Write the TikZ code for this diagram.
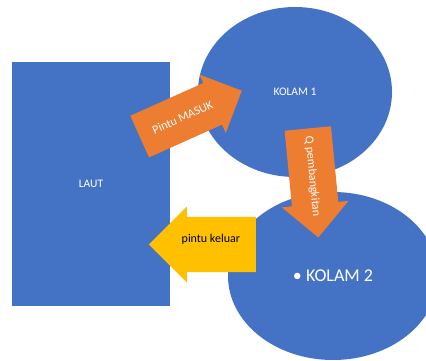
\documentclass[tikz,border=0pt]{standalone}
\usepackage{fontspec}
\setmainfont{Carlito}
\usetikzlibrary{calc,shapes.geometric,shapes.arrows}
\definecolor{kolamblue}{HTML}{4472C4}
\definecolor{panahorange}{HTML}{ED7D31}
\definecolor{panahyellow}{HTML}{FFC000}
\tikzset{
    blok/.style={fill=kolamblue,text=white,inner sep=0pt,font=\fontsize{11.5}{13}\selectfont},
    panah/.style={single arrow,inner xsep=0pt,text height=8pt,text depth=2pt},
    tulisan/.style={inner sep=0pt,font=\fontsize{12}{14}\selectfont},
}
\begin{document}
\begin{tikzpicture}[x=1pt,y=-1pt]
    \useasboundingbox (0,0) rectangle (426,361);
    % kolam dan laut
    \node[blok,rectangle,minimum width=158pt,minimum height=244pt] (laut) at (91,184) {LAUT};
    \node[blok,ellipse,minimum width=194pt,minimum height=170pt] (kolam1) at (295,92) {KOLAM 1};
    \node[blok,ellipse,minimum width=210pt,minimum height=168pt,
        font=\fontsize{18}{21}\selectfont] (kolam2) at (333,276) {• KOLAM 2};
    % panah
    \node[panah,fill=panahorange,minimum width=64pt,minimum height=112pt,
        inner ysep=12.5pt,anchor=tail,rotate=24.2] (masuk) at (139.5,136.7) {};
    \node[tulisan,text=white,rotate=24.2] (masuklabel)
        at ($(masuk.tail)!0.42!(masuk.tip)$) {Pintu MASUK};
    \node[panah,fill=panahorange,minimum width=67pt,minimum height=109.5pt,
        inner ysep=11pt,anchor=tail,rotate=-84.5] (pembangkit) at (307.8,128.3) {};
    \node[tulisan,text=white,rotate=-84.5] (pembangkitlabel)
        at ($(pembangkit.tail)!0.44!(pembangkit.tip)$) {Q pembangkitan};
    \node[panah,fill=panahyellow,shape border rotate=180,minimum width=76pt,
        minimum height=107pt,inner ysep=13.5pt,anchor=tail] (keluar) at (256,244.5) {};
    \node[tulisan,text=black,yshift=5pt] (keluarlabel)
        at ($(keluar.tail)!0.42!(keluar.tip)$) {pintu keluar};
\end{tikzpicture}
\end{document}
